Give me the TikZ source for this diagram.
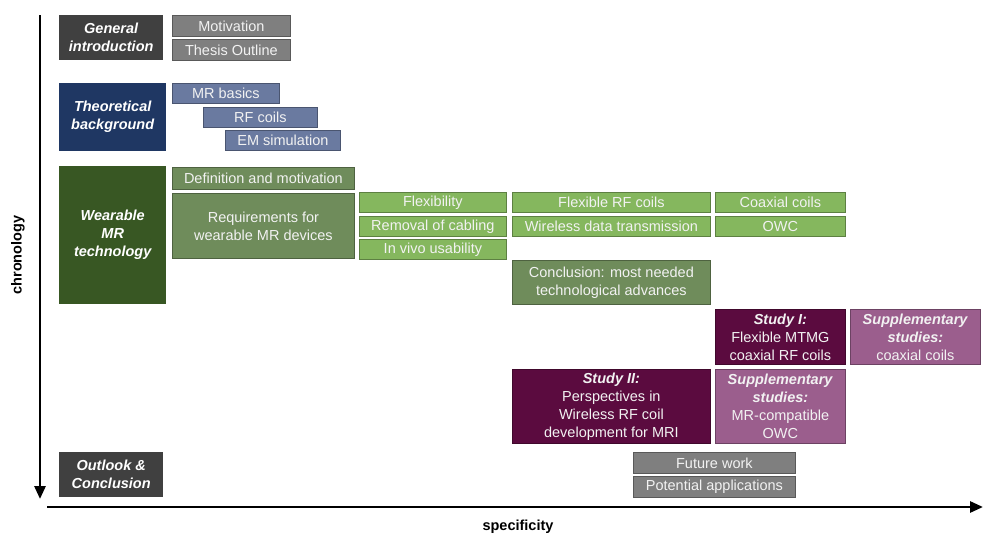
\documentclass[tikz,border=0pt]{standalone}
\usepackage{fontspec}
\setmainfont{Liberation Sans}
\usepackage{xcolor}
\usetikzlibrary{arrows.meta}

\definecolor{headgray}{HTML}{404040}
\definecolor{itemgray}{HTML}{7F7F7F}
\definecolor{headblue}{HTML}{1F3763}
\definecolor{itemblue}{HTML}{6A7AA0}
\definecolor{headgreen}{HTML}{385723}
\definecolor{itemgreen}{HTML}{6F8C5B}
\definecolor{lightgreen}{HTML}{85B75E}
\definecolor{headmaroon}{HTML}{5B0B3F}
\definecolor{itemmauve}{HTML}{9B5E8D}

\tikzset{
	box/.style = {anchor=north west, inner sep=0pt, align=center, text=white!95!black,
		font=\fontsize{14.5}{18}\selectfont},
	head/.style = {box, fill=#1, text=white, font=\fontsize{14.5}{18}\selectfont\bfseries\itshape},
	item/.style = {box, fill=#1, draw=#1!70!black, line width=0.8pt},
	axis/.style = {line width=2.8pt, -{Triangle[length=13pt, width=11pt]}},
}

\begin{document}
\begin{tikzpicture}[x=1pt, y=-1pt]
		\useasboundingbox (0,0) rectangle (983,538);
		
		% axes
		\coordinate (ctop) at (40,15);
		\coordinate (cbot) at (40,499);
		\coordinate (sleft) at (47,507);
		\coordinate (sright) at (983,507);
		\draw [axis] (ctop) -- (cbot);
		\draw [axis] (sleft) -- (sright);
		\node [rotate=90, font=\fontsize{14.5}{18}\selectfont\bfseries] (chrono) at (18,255) {chronology};
		\node [font=\fontsize{14.5}{18}\selectfont\bfseries] (spec) at (518,527) {specificity};
		
		% introduction
		\node [head=headgray, minimum width=104, minimum height=45] (intro) at (59,15) {General\\introduction};
		\begin{scope}[every node/.style={item=itemgray, minimum width=118, minimum height=21}]
			\node (motiv) at (172,15) {Motivation};
			\node (outline) at (172,39) {Thesis Outline};
		\end{scope}
		
		% theory
		\node [head=headblue, minimum width=107, minimum height=68] (theory) at (59,83) {Theoretical\\background};
		\begin{scope}[every node/.style={item=itemblue, minimum height=20}]
			\node [minimum width=107] (mrbasics) at (172,83) {MR basics};
			\node [minimum width=114] (rfcoils) at (203,107) {RF coils};
			\node [minimum width=115] (emsim) at (225,130) {EM simulation};
		\end{scope}
		
		% wearable MR technology
		\node [head=headgreen, minimum width=107, minimum height=138] (wearable) at (59,166) {Wearable\\MR\\technology};
		\begin{scope}[every node/.style={item=itemgreen}]
			\node [minimum width=182, minimum height=22] (defin) at (172,167) {Definition and motivation};
			\node [minimum width=182, minimum height=65] (requir) at (172,193) {Requirements for\\wearable MR devices};
			\node [minimum width=198, minimum height=44] (concl) at (512,260) {Conclusion: most needed\\technological advances};
		\end{scope}
		\begin{scope}[every node/.style={item=lightgreen, minimum height=20}]
			\node [minimum width=147] (flex) at (359,192) {Flexibility};
			\node [minimum width=147] (cabling) at (359,216) {Removal of cabling};
			\node [minimum width=147] (invivo) at (359,239) {In vivo usability};
			\node [minimum width=198] (flexrf) at (512,192) {Flexible RF coils};
			\node [minimum width=198] (wireless) at (512,216) {Wireless data transmission};
			\node [minimum width=130] (coax) at (715,192) {Coaxial coils};
			\node [minimum width=130] (owc) at (715,216) {OWC};
		\end{scope}
		
		% studies
		\node [item=headmaroon, minimum width=130, minimum height=55] (study1) at (715,309) {\textbf{\textit{Study I:}}\\Flexible MTMG\\coaxial RF coils};
		\node [item=itemmauve, minimum width=130, minimum height=55] (supp1) at (850,309) {\textbf{\textit{Supplementary}}\\\textbf{\textit{studies:}}\\coaxial coils};
		\node [item=headmaroon, minimum width=198, minimum height=74] (study2) at (512,369) {\textbf{\textit{Study II:}}\\Perspectives in\\Wireless RF coil\\development for MRI};
		\node [item=itemmauve, minimum width=130, minimum height=74] (supp2) at (715,369) {\textbf{\textit{Supplementary}}\\\textbf{\textit{studies:}}\\MR-compatible\\OWC};
		
		% outlook
		\node [head=headgray, minimum width=104, minimum height=45] (outlook) at (59,452) {Outlook \&\\Conclusion};
		\begin{scope}[every node/.style={item=itemgray, minimum width=162, minimum height=21}]
			\node (future) at (633,452) {Future work};
			\node (applic) at (633,476) {Potential applications};
		\end{scope}
	\end{tikzpicture}
\end{document}
